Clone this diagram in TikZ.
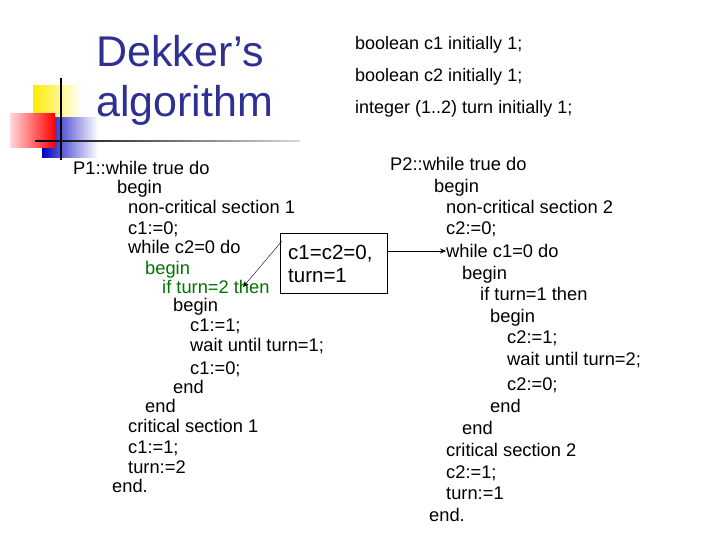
\documentclass[tikz,border=0pt]{standalone}
\usepackage{fontspec}
\setmainfont{Liberation Sans}
\usetikzlibrary{arrows.meta}
\begin{document}
\begin{tikzpicture}[x=1pt,y=-1pt,
  code/.style={anchor=base west,inner sep=0pt,font=\fontsize{18.3}{20}\selectfont},
  hdr/.style={anchor=base west,inner sep=0pt,font=\fontsize{18}{20}\selectfont},
  gr/.style={text=green!45!black},
  tip/.style={-{Stealth[length=6pt,width=5pt]}}]
\definecolor{ttl}{RGB}{46,49,146}
\useasboundingbox (0,0) rectangle (720,540);
% decoration
\fill[left color=yellow!85!orange,right color=white] (33,86) rectangle (82,118);
\fill[left color=blue!75!black,right color=white] (42,118) rectangle (98,158);
\fill[left color=red!15,right color=red] (10,114) rectangle (55,148);
\draw[line width=1.2pt] (61,78) -- (61,160);
\shade[left color=black,right color=gray!30] (35,140.3) rectangle (300,142);
\node[anchor=base west,inner sep=0pt,text=ttl,font=\fontsize{43}{46}\selectfont] (t1) at (96,67) {Dekker’s};
\node[anchor=base west,inner sep=0pt,text=ttl,font=\fontsize{43}{46}\selectfont] (t2) at (96,117) {algorithm};
\node[hdr] (h1) at (355,50) {boolean c1 initially 1;};
\node[hdr] (h2) at (355,82) {boolean c2 initially 1;};
\node[hdr] (h3) at (355,114) {integer (1..2) turn initially 1;};
% P1
\node[code] (a1) at (73,175) {P1::while true do};
\node[code] (a2) at (117,194) {begin};
\node[code] (a3) at (128,214) {non-critical section 1};
\node[code] (a4) at (128,235) {c1:=0;};
\node[code] (a5) at (128,253) {while c2=0 do};
\node[code,gr] (a6) at (145,274) {begin};
\node[code,gr] (a7) at (162,293) {if turn=2 then};
\node[code] (a8) at (173,311) {begin};
\node[code] (a9) at (190,331) {c1:=1;};
\node[code] (a10) at (190,351) {wait until turn=1;};
\node[code] (a11) at (190,374) {c1:=0;};
\node[code] (a12) at (173,393) {end};
\node[code] (a13) at (145,412) {end};
\node[code] (a14) at (128,432) {critical section 1};
\node[code] (a15) at (128,453) {c1:=1;};
\node[code] (a16) at (128,473) {turn:=2};
\node[code] (a17) at (112,492) {end.};
% P2
\node[code] (b1) at (390,171) {P2::while true do};
\node[code] (b2) at (434,193) {begin};
\node[code] (b3) at (446,214) {non-critical section 2};
\node[code] (b4) at (446,235) {c2:=0;};
\node[code] (b5) at (446,257) {while c1=0 do};
\node[code] (b6) at (462,279) {begin};
\node[code] (b7) at (480,300) {if turn=1 then};
\node[code] (b8) at (490,322) {begin};
\node[code] (b9) at (507,343) {c2:=1;};
\node[code] (b10) at (507,365) {wait until turn=2;};
\node[code] (b11) at (507,390) {c2:=0;};
\node[code] (b12) at (490,412) {end};
\node[code] (b13) at (462,434) {end};
\node[code] (b14) at (446,456) {critical section 2};
\node[code] (b15) at (446,478) {c2:=1;};
\node[code] (b16) at (446,499) {turn:=1};
\node[code] (b17) at (429,521) {end.};
% box
\node[draw,thick,anchor=north west,minimum width=107pt,minimum height=60pt,inner sep=0pt] (box) at (280,233) {};
\node[code,font=\fontsize{20.5}{24}\selectfont] (bx1) at (288,259) {c1=c2=0,};
\node[code,font=\fontsize{20.5}{24}\selectfont] (bx2) at (288,282) {turn=1};
\coordinate (s1) at (282,241);
\coordinate (e1) at (243,287);
\draw[tip] (s1) -- (e1);
\draw[tip] (box.east |- 0,251) -- (b5.west |- 0,251);
\end{tikzpicture}
\end{document}
